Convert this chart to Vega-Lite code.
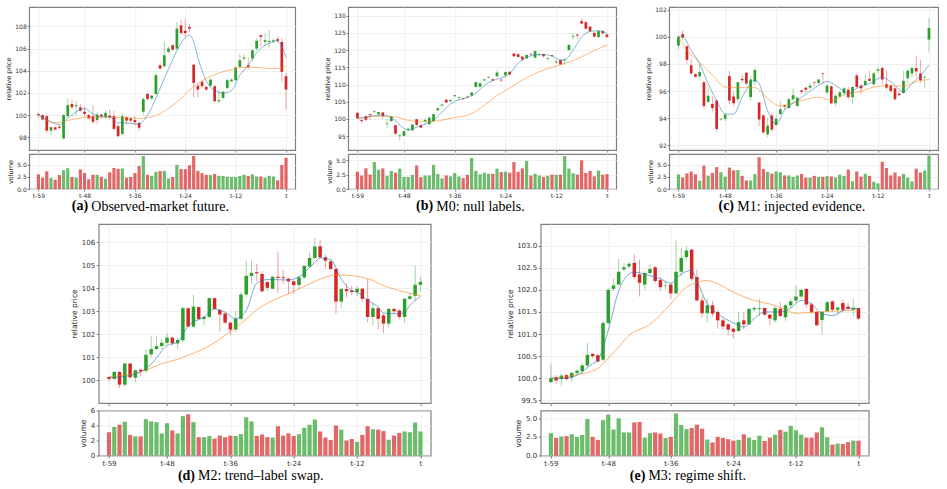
{
  "$schema": "https://vega.github.io/schema/vega-lite/v6.json",
  "background": "white",
  "padding": {"left": 4, "top": 6, "right": 0, "bottom": 0},
  "config": {
    "view": {"stroke": "#808080", "strokeWidth": 1.2},
    "axis": {
      "domain": false, "grid": true, "gridColor": "#ebebeb", "gridWidth": 0.8,
      "tickColor": "#555555", "tickWidth": 0.8, "labelOverlap": false, "labelBound": false,
      "labelFont": "DejaVu Sans", "labelColor": "#333333",
      "titleFont": "DejaVu Sans", "titleFontWeight": "normal", "titleColor": "#222222"
    },
    "title": {"font": "Liberation Serif", "fontSize": 14, "color": "#000000", "fontWeight": "normal", "frame": "bounds"}
  },
  "datasets": {
    "a": [
      {"t":-59,"open":100.1,"high":100.2,"low":99.8,"close":100.0,"vol":3.0},
      {"t":-58,"open":100.0,"high":100.1,"low":99.5,"close":99.6,"vol":2.3},
      {"t":-57,"open":99.9,"high":100.0,"low":98.4,"close":98.6,"vol":3.65},
      {"t":-56,"open":98.6,"high":99.0,"low":98.2,"close":98.9,"vol":2.25},
      {"t":-55,"open":98.9,"high":99.0,"low":98.6,"close":98.7,"vol":1.9},
      {"t":-54,"open":98.95,"high":99.1,"low":98.7,"close":98.85,"vol":2.85},
      {"t":-53,"open":97.9,"high":100.1,"low":97.8,"close":100.0,"vol":3.85},
      {"t":-52,"open":99.9,"high":101.5,"low":99.8,"close":100.9,"vol":4.25},
      {"t":-51,"open":101.0,"high":101.4,"low":100.5,"close":100.7,"vol":2.45},
      {"t":-50,"open":100.8,"high":101.3,"low":99.9,"close":100.9,"vol":2.3},
      {"t":-49,"open":100.7,"high":101.0,"low":100.3,"close":100.4,"vol":4.0},
      {"t":-48,"open":100.3,"high":100.8,"low":99.9,"close":100.1,"vol":3.25},
      {"t":-47,"open":100.0,"high":100.1,"low":99.6,"close":99.7,"vol":2.0},
      {"t":-46,"open":99.9,"high":100.9,"low":99.2,"close":99.4,"vol":2.9},
      {"t":-45,"open":99.55,"high":100.3,"low":99.2,"close":100.05,"vol":2.9},
      {"t":-44,"open":100.05,"high":100.1,"low":99.7,"close":99.9,"vol":2.5},
      {"t":-43,"open":99.85,"high":100.5,"low":99.7,"close":100.2,"vol":2.1},
      {"t":-42,"open":99.95,"high":100.5,"low":99.5,"close":99.8,"vol":3.4},
      {"t":-41,"open":99.9,"high":100.4,"low":98.7,"close":98.75,"vol":4.3},
      {"t":-40,"open":99.0,"high":99.2,"low":98.0,"close":98.1,"vol":4.1},
      {"t":-39,"open":98.3,"high":100.2,"low":98.2,"close":99.9,"vol":4.2},
      {"t":-38,"open":99.8,"high":99.9,"low":99.1,"close":99.5,"vol":2.3},
      {"t":-37,"open":99.7,"high":99.8,"low":99.3,"close":99.5,"vol":2.45},
      {"t":-36,"open":99.55,"high":99.9,"low":99.1,"close":99.35,"vol":3.25},
      {"t":-35,"open":99.3,"high":99.4,"low":98.6,"close":98.85,"vol":4.7},
      {"t":-34,"open":100.3,"high":101.6,"low":100.0,"close":101.45,"vol":6.7},
      {"t":-33,"open":101.9,"high":102.0,"low":101.3,"close":101.45,"vol":2.9},
      {"t":-32,"open":101.5,"high":101.8,"low":101.3,"close":101.75,"vol":2.7},
      {"t":-31,"open":101.9,"high":103.8,"low":101.8,"close":103.6,"vol":3.5},
      {"t":-30,"open":104.5,"high":104.7,"low":104.1,"close":104.2,"vol":3.65},
      {"t":-29,"open":104.4,"high":106.6,"low":104.3,"close":105.4,"vol":3.7},
      {"t":-28,"open":105.7,"high":106.2,"low":105.6,"close":106.0,"vol":2.15},
      {"t":-27,"open":106.3,"high":106.4,"low":105.8,"close":105.9,"vol":2.45},
      {"t":-26,"open":106.0,"high":108.4,"low":105.9,"close":107.8,"vol":4.9},
      {"t":-25,"open":108.1,"high":108.6,"low":107.2,"close":107.4,"vol":4.1},
      {"t":-24,"open":107.6,"high":108.7,"low":107.0,"close":107.4,"vol":4.05},
      {"t":-23,"open":107.95,"high":108.2,"low":107.5,"close":107.8,"vol":4.85},
      {"t":-22,"open":104.55,"high":104.6,"low":101.6,"close":102.9,"vol":6.75},
      {"t":-21,"open":102.65,"high":102.8,"low":101.6,"close":102.3,"vol":3.7},
      {"t":-20,"open":103.0,"high":103.1,"low":102.4,"close":102.6,"vol":3.25},
      {"t":-19,"open":102.55,"high":102.6,"low":102.2,"close":102.3,"vol":2.9},
      {"t":-18,"open":102.65,"high":103.3,"low":102.5,"close":103.2,"vol":2.85},
      {"t":-17,"open":102.6,"high":102.7,"low":101.2,"close":101.25,"vol":3.1},
      {"t":-16,"open":101.25,"high":102.3,"low":101.1,"close":101.35,"vol":2.7},
      {"t":-15,"open":101.55,"high":102.2,"low":101.4,"close":102.1,"vol":2.65},
      {"t":-14,"open":102.45,"high":103.3,"low":102.3,"close":103.15,"vol":2.5},
      {"t":-13,"open":103.05,"high":103.3,"low":103.0,"close":103.2,"vol":2.45},
      {"t":-12,"open":103.15,"high":104.4,"low":103.1,"close":104.3,"vol":2.45},
      {"t":-11,"open":104.35,"high":105.5,"low":104.3,"close":104.95,"vol":2.65},
      {"t":-10,"open":105.1,"high":105.5,"low":104.9,"close":105.2,"vol":2.9},
      {"t":-9,"open":104.5,"high":105.2,"low":104.1,"close":104.35,"vol":2.65},
      {"t":-8,"open":105.1,"high":105.9,"low":104.9,"close":105.85,"vol":3.0},
      {"t":-7,"open":106.0,"high":106.9,"low":105.8,"close":106.7,"vol":2.55},
      {"t":-6,"open":107.2,"high":107.3,"low":106.2,"close":107.05,"vol":2.55},
      {"t":-5,"open":106.6,"high":107.4,"low":106.2,"close":106.75,"vol":2.3},
      {"t":-4,"open":106.6,"high":107.7,"low":106.0,"close":106.7,"vol":2.7},
      {"t":-3,"open":106.65,"high":106.9,"low":106.5,"close":106.75,"vol":2.55},
      {"t":-2,"open":106.85,"high":107.1,"low":106.5,"close":106.7,"vol":1.75},
      {"t":-1,"open":106.6,"high":106.9,"low":103.0,"close":103.9,"vol":4.9},
      {"t":0,"open":103.5,"high":103.8,"low":100.5,"close":102.3,"vol":6.4}
    ],
    "a_fast": [
      {"t":-59,"v":100.0},{"t":-56,"v":99.4},{"t":-54,"v":99.15},{"t":-52,"v":99.7},{"t":-49,"v":100.5},
      {"t":-48,"v":100.6},{"t":-46,"v":100.1},{"t":-44,"v":99.85},{"t":-42,"v":99.85},{"t":-40,"v":99.3},
      {"t":-38,"v":99.3},{"t":-36,"v":99.2},{"t":-35,"v":99.2},{"t":-33,"v":100.0},{"t":-31,"v":101.5},
      {"t":-29,"v":103.3},{"t":-27,"v":105.0},{"t":-25,"v":106.5},{"t":-23,"v":107.2},{"t":-22,"v":106.6},
      {"t":-21,"v":105.2},{"t":-19,"v":103.1},{"t":-17,"v":102.2},{"t":-15,"v":102.0},{"t":-13,"v":102.2},
      {"t":-11,"v":103.6},{"t":-9,"v":104.5},{"t":-7,"v":105.6},{"t":-5,"v":106.3},{"t":-3,"v":106.6},
      {"t":-2,"v":106.7},{"t":-1,"v":106.2},{"t":0,"v":105.2}
    ],
    "a_slow": [
      {"t":-59,"v":100.0},{"t":-55,"v":99.3},{"t":-51,"v":99.6},{"t":-47,"v":99.8},{"t":-41,"v":99.8},
      {"t":-35,"v":99.7},{"t":-31,"v":99.95},{"t":-28,"v":100.6},{"t":-25,"v":101.5},{"t":-22,"v":102.6},
      {"t":-19,"v":103.3},{"t":-16,"v":103.8},{"t":-13,"v":104.1},{"t":-10,"v":104.3},{"t":-7,"v":104.3},
      {"t":-4,"v":104.2},{"t":-2,"v":104.2},{"t":0,"v":104.4}
    ],
    "b": [
      {"t":-59,"open":101.8,"high":102.0,"low":100.0,"close":100.2,"vol":3.0},
      {"t":-58,"open":99.7,"high":99.9,"low":98.8,"close":99.4,"vol":2.35},
      {"t":-57,"open":100.8,"high":101.0,"low":99.3,"close":99.8,"vol":3.6},
      {"t":-56,"open":101.4,"high":101.6,"low":99.8,"close":101.1,"vol":2.5},
      {"t":-55,"open":102.0,"high":102.5,"low":101.8,"close":102.2,"vol":4.7},
      {"t":-54,"open":101.3,"high":102.1,"low":101.2,"close":102.0,"vol":3.35},
      {"t":-53,"open":101.9,"high":102.0,"low":100.0,"close":100.9,"vol":3.6},
      {"t":-52,"open":98.5,"high":100.0,"low":97.3,"close":98.7,"vol":2.3},
      {"t":-51,"open":99.4,"high":100.8,"low":99.2,"close":100.7,"vol":3.15},
      {"t":-50,"open":98.2,"high":98.4,"low":95.5,"close":95.7,"vol":2.85},
      {"t":-49,"open":95.0,"high":95.7,"low":93.8,"close":95.2,"vol":3.55},
      {"t":-48,"open":95.1,"high":96.6,"low":94.9,"close":96.5,"vol":2.1},
      {"t":-47,"open":96.9,"high":97.3,"low":96.3,"close":97.2,"vol":2.1},
      {"t":-46,"open":96.7,"high":98.5,"low":96.6,"close":98.4,"vol":2.45},
      {"t":-45,"open":99.9,"high":100.1,"low":97.9,"close":98.3,"vol":4.1},
      {"t":-44,"open":98.2,"high":98.4,"low":97.3,"close":97.5,"vol":2.05},
      {"t":-43,"open":99.4,"high":100.2,"low":98.4,"close":99.7,"vol":2.35},
      {"t":-42,"open":98.5,"high":100.6,"low":98.3,"close":100.4,"vol":2.35},
      {"t":-41,"open":99.4,"high":101.6,"low":99.2,"close":101.4,"vol":4.2},
      {"t":-40,"open":102.5,"high":103.2,"low":102.4,"close":103.1,"vol":2.6},
      {"t":-39,"open":103.9,"high":104.4,"low":103.7,"close":104.2,"vol":1.85},
      {"t":-38,"open":105.6,"high":105.9,"low":104.6,"close":104.8,"vol":2.35},
      {"t":-37,"open":105.2,"high":105.7,"low":104.8,"close":105.5,"vol":2.2},
      {"t":-36,"open":106.6,"high":107.0,"low":106.5,"close":106.9,"vol":2.8},
      {"t":-35,"open":106.1,"high":106.6,"low":105.4,"close":106.3,"vol":2.2},
      {"t":-34,"open":106.0,"high":106.2,"low":105.4,"close":105.8,"vol":1.9},
      {"t":-33,"open":106.5,"high":106.8,"low":106.1,"close":106.3,"vol":2.45},
      {"t":-32,"open":106.8,"high":107.8,"low":106.6,"close":107.7,"vol":5.4},
      {"t":-31,"open":109.3,"high":110.9,"low":109.1,"close":110.7,"vol":3.15},
      {"t":-30,"open":109.4,"high":110.6,"low":109.2,"close":110.4,"vol":2.55},
      {"t":-29,"open":111.2,"high":111.7,"low":111.0,"close":111.5,"vol":2.85},
      {"t":-28,"open":112.0,"high":112.5,"low":111.9,"close":112.2,"vol":2.65},
      {"t":-27,"open":111.5,"high":111.9,"low":110.7,"close":111.2,"vol":2.65},
      {"t":-26,"open":112.4,"high":114.3,"low":112.0,"close":113.5,"vol":3.55},
      {"t":-25,"open":111.4,"high":111.7,"low":110.7,"close":111.2,"vol":2.95},
      {"t":-24,"open":112.7,"high":113.8,"low":112.0,"close":113.6,"vol":3.0},
      {"t":-23,"open":113.7,"high":113.9,"low":112.7,"close":112.9,"vol":2.85},
      {"t":-22,"open":119.0,"high":119.2,"low":118.0,"close":118.2,"vol":4.7},
      {"t":-21,"open":118.8,"high":119.0,"low":117.8,"close":118.0,"vol":3.0},
      {"t":-20,"open":118.1,"high":118.3,"low":116.8,"close":117.3,"vol":3.6},
      {"t":-19,"open":117.6,"high":118.8,"low":117.4,"close":118.6,"vol":4.9},
      {"t":-18,"open":118.9,"high":119.1,"low":118.5,"close":118.7,"vol":2.35},
      {"t":-17,"open":117.8,"high":119.9,"low":117.6,"close":119.7,"vol":2.65},
      {"t":-16,"open":118.6,"high":119.1,"low":118.2,"close":118.8,"vol":2.35},
      {"t":-15,"open":118.8,"high":119.0,"low":117.9,"close":118.2,"vol":2.1},
      {"t":-14,"open":117.5,"high":118.0,"low":116.8,"close":117.7,"vol":2.3},
      {"t":-13,"open":118.5,"high":118.6,"low":118.0,"close":118.3,"vol":2.5},
      {"t":-12,"open":116.4,"high":117.1,"low":116.1,"close":116.7,"vol":2.45},
      {"t":-11,"open":117.1,"high":117.3,"low":115.7,"close":115.8,"vol":2.5},
      {"t":-10,"open":117.0,"high":117.6,"low":115.7,"close":117.2,"vol":5.75},
      {"t":-9,"open":120.0,"high":121.7,"low":119.9,"close":121.5,"vol":3.55},
      {"t":-8,"open":123.8,"high":124.8,"low":123.0,"close":124.0,"vol":2.75},
      {"t":-7,"open":124.5,"high":124.6,"low":123.2,"close":124.2,"vol":2.5},
      {"t":-6,"open":128.4,"high":129.2,"low":127.5,"close":127.7,"vol":5.0},
      {"t":-5,"open":128.1,"high":128.3,"low":126.0,"close":126.2,"vol":2.8},
      {"t":-4,"open":126.8,"high":127.0,"low":125.2,"close":125.5,"vol":3.15},
      {"t":-3,"open":125.0,"high":125.2,"low":123.7,"close":123.9,"vol":2.2},
      {"t":-2,"open":123.8,"high":125.8,"low":123.2,"close":125.5,"vol":3.2},
      {"t":-1,"open":125.5,"high":126.0,"low":124.5,"close":124.9,"vol":2.5},
      {"t":0,"open":124.5,"high":124.7,"low":123.5,"close":123.8,"vol":2.6}
    ],
    "b_fast": [
      {"t":-59,"v":100.3},{"t":-57,"v":100.5},{"t":-55,"v":101.0},{"t":-53,"v":101.1},{"t":-51,"v":100.5},
      {"t":-49,"v":98.2},{"t":-47,"v":96.8},{"t":-45,"v":97.6},{"t":-43,"v":98.5},{"t":-41,"v":99.7},
      {"t":-39,"v":102.0},{"t":-37,"v":104.3},{"t":-35,"v":105.6},{"t":-33,"v":106.2},{"t":-31,"v":107.5},
      {"t":-29,"v":109.7},{"t":-27,"v":111.2},{"t":-25,"v":111.9},{"t":-23,"v":113.2},{"t":-21,"v":116.2},
      {"t":-19,"v":117.8},{"t":-17,"v":118.6},{"t":-15,"v":118.7},{"t":-13,"v":118.3},{"t":-11,"v":117.1},
      {"t":-10,"v":117.2},{"t":-8,"v":120.0},{"t":-6,"v":123.8},{"t":-4,"v":125.4},{"t":-2,"v":125.6},
      {"t":0,"v":124.8}
    ],
    "b_slow": [
      {"t":-59,"v":100.0},{"t":-54,"v":100.8},{"t":-50,"v":100.6},{"t":-47,"v":99.6},{"t":-44,"v":99.2},
      {"t":-41,"v":99.3},{"t":-38,"v":99.9},{"t":-36,"v":100.4},{"t":-32,"v":101.5},{"t":-29,"v":104.0},
      {"t":-26,"v":106.8},{"t":-23,"v":109.0},{"t":-19,"v":112.0},{"t":-16,"v":113.7},{"t":-12,"v":115.4},
      {"t":-10,"v":116.1},{"t":-8,"v":116.9},{"t":-4,"v":119.3},{"t":0,"v":121.5}
    ],
    "c": [
      {"t":-59,"open":99.35,"high":100.1,"low":99.1,"close":100.0,"vol":3.0},
      {"t":-58,"open":100.2,"high":100.45,"low":99.8,"close":99.95,"vol":2.35},
      {"t":-57,"open":99.3,"high":99.4,"low":98.0,"close":98.3,"vol":3.2},
      {"t":-56,"open":97.9,"high":98.4,"low":97.2,"close":97.3,"vol":3.6},
      {"t":-55,"open":97.25,"high":97.3,"low":97.0,"close":97.05,"vol":3.05},
      {"t":-54,"open":97.1,"high":98.0,"low":96.8,"close":97.4,"vol":1.7},
      {"t":-53,"open":96.65,"high":96.7,"low":94.7,"close":94.9,"vol":4.8},
      {"t":-52,"open":95.2,"high":96.2,"low":95.1,"close":95.65,"vol":2.75},
      {"t":-51,"open":95.05,"high":95.6,"low":94.5,"close":94.75,"vol":3.3},
      {"t":-50,"open":95.3,"high":95.4,"low":93.0,"close":93.2,"vol":4.5},
      {"t":-49,"open":93.9,"high":94.0,"low":93.8,"close":93.95,"vol":3.45},
      {"t":-48,"open":93.95,"high":94.4,"low":93.8,"close":94.25,"vol":2.55},
      {"t":-47,"open":97.1,"high":97.5,"low":95.0,"close":95.3,"vol":4.4},
      {"t":-46,"open":95.6,"high":96.0,"low":94.9,"close":95.1,"vol":3.85},
      {"t":-45,"open":95.4,"high":96.7,"low":95.2,"close":96.65,"vol":3.9},
      {"t":-44,"open":96.9,"high":97.2,"low":96.6,"close":96.8,"vol":2.7},
      {"t":-43,"open":97.35,"high":97.4,"low":96.4,"close":96.55,"vol":1.75},
      {"t":-42,"open":95.55,"high":97.1,"low":95.3,"close":96.85,"vol":1.75},
      {"t":-41,"open":96.7,"high":97.75,"low":96.4,"close":97.55,"vol":3.05},
      {"t":-40,"open":95.15,"high":95.2,"low":93.4,"close":93.9,"vol":6.55},
      {"t":-39,"open":94.2,"high":94.3,"low":92.8,"close":92.95,"vol":4.1},
      {"t":-38,"open":92.8,"high":94.0,"low":92.6,"close":93.45,"vol":3.5},
      {"t":-37,"open":94.2,"high":94.4,"low":93.0,"close":93.15,"vol":3.15},
      {"t":-36,"open":93.5,"high":94.2,"low":93.4,"close":93.95,"vol":3.6},
      {"t":-35,"open":94.3,"high":95.3,"low":94.2,"close":94.65,"vol":3.45},
      {"t":-34,"open":94.95,"high":95.0,"low":94.6,"close":94.85,"vol":2.8},
      {"t":-33,"open":94.75,"high":95.5,"low":94.7,"close":95.4,"vol":2.8},
      {"t":-32,"open":95.4,"high":96.2,"low":95.3,"close":95.7,"vol":2.5},
      {"t":-31,"open":94.9,"high":95.6,"low":94.8,"close":95.5,"vol":2.8},
      {"t":-30,"open":96.05,"high":96.1,"low":95.8,"close":95.95,"vol":3.1},
      {"t":-29,"open":96.25,"high":96.3,"low":95.9,"close":96.1,"vol":2.35},
      {"t":-28,"open":96.25,"high":96.6,"low":96.1,"close":96.4,"vol":2.35},
      {"t":-27,"open":96.65,"high":96.7,"low":96.3,"close":96.6,"vol":2.7},
      {"t":-26,"open":96.6,"high":96.9,"low":96.5,"close":96.85,"vol":2.5},
      {"t":-25,"open":97.3,"high":97.35,"low":96.5,"close":97.25,"vol":2.5},
      {"t":-24,"open":95.9,"high":96.5,"low":95.8,"close":96.4,"vol":2.65},
      {"t":-23,"open":96.35,"high":96.4,"low":95.0,"close":95.1,"vol":2.6},
      {"t":-22,"open":95.1,"high":95.8,"low":94.9,"close":95.65,"vol":2.35},
      {"t":-21,"open":95.6,"high":96.0,"low":95.5,"close":95.9,"vol":2.95},
      {"t":-20,"open":95.85,"high":96.3,"low":95.7,"close":96.2,"vol":2.7},
      {"t":-19,"open":96.1,"high":96.3,"low":95.4,"close":95.55,"vol":4.0},
      {"t":-18,"open":95.55,"high":96.35,"low":95.0,"close":96.3,"vol":1.6},
      {"t":-17,"open":97.15,"high":97.3,"low":96.2,"close":96.3,"vol":3.6},
      {"t":-16,"open":96.4,"high":96.5,"low":95.8,"close":96.2,"vol":2.55},
      {"t":-15,"open":96.45,"high":97.3,"low":96.4,"close":96.75,"vol":3.1},
      {"t":-14,"open":96.9,"high":97.5,"low":96.7,"close":96.75,"vol":2.7},
      {"t":-13,"open":96.5,"high":97.4,"low":96.4,"close":97.3,"vol":1.5},
      {"t":-12,"open":97.5,"high":97.75,"low":97.3,"close":97.6,"vol":1.15},
      {"t":-11,"open":97.7,"high":97.8,"low":96.5,"close":96.85,"vol":5.6},
      {"t":-10,"open":96.5,"high":97.5,"low":96.1,"close":96.25,"vol":4.3},
      {"t":-9,"open":96.4,"high":96.5,"low":95.9,"close":96.0,"vol":2.8},
      {"t":-8,"open":96.2,"high":96.3,"low":95.3,"close":95.4,"vol":3.4},
      {"t":-7,"open":95.8,"high":96.0,"low":95.6,"close":95.7,"vol":2.6},
      {"t":-6,"open":95.85,"high":97.5,"low":95.8,"close":96.75,"vol":3.1},
      {"t":-5,"open":96.95,"high":97.6,"low":96.6,"close":97.5,"vol":2.35},
      {"t":-4,"open":97.3,"high":97.8,"low":97.0,"close":97.7,"vol":1.55},
      {"t":-3,"open":97.7,"high":98.6,"low":97.0,"close":97.45,"vol":4.2},
      {"t":-2,"open":97.3,"high":98.3,"low":96.6,"close":96.8,"vol":3.4},
      {"t":-1,"open":97.0,"high":97.1,"low":96.2,"close":97.05,"vol":3.8},
      {"t":0,"open":99.8,"high":101.4,"low":98.9,"close":100.65,"vol":6.9}
    ],
    "c_fast": [
      {"t":-59,"v":100.0},{"t":-58,"v":100.0},{"t":-56,"v":99.0},{"t":-54,"v":98.0},{"t":-52,"v":96.55},
      {"t":-50,"v":95.3},{"t":-48,"v":94.3},{"t":-46,"v":94.3},{"t":-44,"v":95.55},{"t":-41,"v":96.8},
      {"t":-40,"v":96.55},{"t":-38,"v":94.55},{"t":-36,"v":93.55},{"t":-34,"v":94.6},{"t":-31,"v":95.3},
      {"t":-27,"v":96.2},{"t":-24,"v":96.7},{"t":-21,"v":96.2},{"t":-19,"v":95.8},{"t":-17,"v":96.2},
      {"t":-14,"v":96.55},{"t":-11,"v":97.0},{"t":-9,"v":96.7},{"t":-6,"v":95.95},{"t":-4,"v":96.55},
      {"t":-2,"v":97.15},{"t":0,"v":97.9}
    ],
    "c_slow": [
      {"t":-59,"v":100.0},{"t":-57,"v":99.0},{"t":-55,"v":98.4},{"t":-54,"v":98.1},{"t":-51,"v":97.2},
      {"t":-48,"v":96.3},{"t":-44,"v":96.25},{"t":-41,"v":96.25},{"t":-38,"v":95.45},{"t":-35,"v":94.9},
      {"t":-30,"v":95.3},{"t":-26,"v":95.55},{"t":-23,"v":95.3},{"t":-20,"v":95.7},{"t":-17,"v":95.9},
      {"t":-12,"v":96.35},{"t":-9,"v":96.4},{"t":-6,"v":96.35},{"t":-3,"v":96.7},{"t":0,"v":96.85}
    ],
    "d": [
      {"t":-59,"open":100.13,"high":100.15,"low":99.95,"close":100.05,"vol":3.1},
      {"t":-58,"open":100.05,"high":100.4,"low":100.0,"close":100.35,"vol":3.8},
      {"t":-57,"open":100.35,"high":100.4,"low":99.65,"close":99.8,"vol":4.1},
      {"t":-56,"open":99.8,"high":100.75,"low":99.7,"close":100.72,"vol":4.5},
      {"t":-55,"open":100.72,"high":100.75,"low":100.05,"close":100.12,"vol":2.75},
      {"t":-54,"open":100.1,"high":100.45,"low":99.9,"close":100.43,"vol":2.55},
      {"t":-53,"open":100.45,"high":100.5,"low":100.2,"close":100.38,"vol":2.55},
      {"t":-52,"open":100.4,"high":101.35,"low":100.3,"close":101.1,"vol":4.85},
      {"t":-51,"open":101.12,"high":101.9,"low":101.0,"close":101.35,"vol":4.55},
      {"t":-50,"open":101.35,"high":101.9,"low":101.3,"close":101.48,"vol":4.45},
      {"t":-49,"open":101.48,"high":101.8,"low":101.35,"close":101.63,"vol":2.95},
      {"t":-48,"open":101.62,"high":102.05,"low":101.55,"close":101.85,"vol":4.3},
      {"t":-47,"open":101.85,"high":101.9,"low":101.5,"close":101.6,"vol":3.35},
      {"t":-46,"open":101.6,"high":101.85,"low":101.35,"close":101.75,"vol":2.95},
      {"t":-45,"open":101.73,"high":103.2,"low":101.65,"close":103.13,"vol":5.25},
      {"t":-44,"open":103.13,"high":103.15,"low":102.3,"close":102.33,"vol":5.5},
      {"t":-43,"open":102.33,"high":103.72,"low":102.25,"close":103.2,"vol":4.45},
      {"t":-42,"open":103.18,"high":103.2,"low":102.6,"close":102.66,"vol":2.45},
      {"t":-41,"open":102.66,"high":102.8,"low":102.4,"close":102.75,"vol":2.45},
      {"t":-40,"open":102.75,"high":103.6,"low":102.7,"close":103.57,"vol":2.6},
      {"t":-39,"open":103.57,"high":103.6,"low":103.05,"close":103.1,"vol":2.25},
      {"t":-38,"open":103.05,"high":103.1,"low":102.1,"close":102.86,"vol":2.65},
      {"t":-37,"open":102.9,"high":102.95,"low":102.45,"close":102.5,"vol":2.45},
      {"t":-36,"open":102.5,"high":102.55,"low":101.95,"close":102.2,"vol":2.65},
      {"t":-35,"open":102.2,"high":103.0,"low":102.1,"close":102.67,"vol":2.6},
      {"t":-34,"open":102.67,"high":103.85,"low":102.6,"close":103.73,"vol":2.85},
      {"t":-33,"open":103.73,"high":105.2,"low":103.6,"close":104.54,"vol":5.1},
      {"t":-32,"open":104.54,"high":105.2,"low":104.2,"close":104.67,"vol":4.55},
      {"t":-31,"open":104.7,"high":105.07,"low":104.3,"close":104.65,"vol":2.6},
      {"t":-30,"open":104.62,"high":104.75,"low":103.8,"close":103.87,"vol":2.8},
      {"t":-29,"open":104.27,"high":104.3,"low":103.9,"close":104.02,"vol":2.45},
      {"t":-28,"open":103.98,"high":104.55,"low":103.95,"close":104.5,"vol":2.4},
      {"t":-27,"open":104.5,"high":105.6,"low":103.8,"close":104.45,"vol":3.9},
      {"t":-26,"open":104.48,"high":104.8,"low":104.2,"close":104.44,"vol":2.65},
      {"t":-25,"open":104.42,"high":104.45,"low":103.75,"close":104.3,"vol":2.95},
      {"t":-24,"open":104.3,"high":104.35,"low":103.75,"close":104.14,"vol":2.6},
      {"t":-23,"open":104.14,"high":104.55,"low":103.95,"close":104.47,"vol":2.85},
      {"t":-22,"open":104.47,"high":105.0,"low":104.4,"close":104.97,"vol":3.7},
      {"t":-21,"open":104.95,"high":105.55,"low":104.9,"close":105.32,"vol":4.1},
      {"t":-20,"open":105.32,"high":106.2,"low":105.3,"close":105.82,"vol":4.8},
      {"t":-19,"open":105.83,"high":106.1,"low":105.3,"close":105.35,"vol":3.2},
      {"t":-18,"open":105.35,"high":105.45,"low":104.85,"close":105.2,"vol":2.4},
      {"t":-17,"open":105.17,"high":105.25,"low":104.8,"close":104.84,"vol":2.05},
      {"t":-16,"open":104.84,"high":104.9,"low":102.9,"close":103.42,"vol":4.0},
      {"t":-15,"open":103.42,"high":104.0,"low":103.15,"close":103.97,"vol":3.45},
      {"t":-14,"open":103.96,"high":104.2,"low":103.6,"close":103.87,"vol":2.0},
      {"t":-13,"open":103.9,"high":104.1,"low":103.7,"close":103.83,"vol":2.2},
      {"t":-12,"open":103.83,"high":104.1,"low":103.65,"close":103.98,"vol":1.8},
      {"t":-11,"open":103.98,"high":104.0,"low":103.4,"close":103.54,"vol":2.75},
      {"t":-10,"open":103.54,"high":104.4,"low":102.5,"close":102.75,"vol":3.9},
      {"t":-9,"open":102.75,"high":103.35,"low":102.4,"close":103.13,"vol":3.5},
      {"t":-8,"open":103.13,"high":103.2,"low":102.2,"close":102.67,"vol":3.45},
      {"t":-7,"open":102.82,"high":102.9,"low":102.05,"close":102.46,"vol":3.25},
      {"t":-6,"open":102.46,"high":103.15,"low":102.3,"close":103.1,"vol":2.1},
      {"t":-5,"open":103.1,"high":103.15,"low":102.9,"close":103.0,"vol":2.65},
      {"t":-4,"open":103.03,"high":103.1,"low":102.65,"close":102.75,"vol":3.0},
      {"t":-3,"open":102.75,"high":103.6,"low":102.5,"close":103.54,"vol":3.2},
      {"t":-2,"open":103.54,"high":103.8,"low":103.5,"close":103.65,"vol":3.1},
      {"t":-1,"open":103.67,"high":104.98,"low":103.45,"close":104.15,"vol":4.4},
      {"t":0,"open":104.15,"high":104.5,"low":103.85,"close":104.28,"vol":3.2}
    ],
    "d_fast": [
      {"t":-59,"v":100.1},{"t":-55,"v":100.2},{"t":-52,"v":100.5},{"t":-51,"v":100.7},{"t":-48,"v":101.5},
      {"t":-46,"v":101.66},{"t":-44,"v":102.35},{"t":-41,"v":102.75},{"t":-39,"v":103.1},{"t":-37,"v":102.96},
      {"t":-35,"v":102.67},{"t":-33,"v":103.03},{"t":-31,"v":104.22},{"t":-29,"v":104.38},{"t":-25,"v":104.36},
      {"t":-23,"v":104.5},{"t":-20,"v":105.13},{"t":-19,"v":105.32},{"t":-17,"v":105.25},{"t":-15,"v":104.4},
      {"t":-13,"v":103.9},{"t":-12,"v":103.83},{"t":-10,"v":103.47},{"t":-8,"v":103.18},{"t":-7,"v":102.92},
      {"t":-4,"v":102.89},{"t":-3,"v":102.96},{"t":-2,"v":103.25},{"t":0,"v":103.64}
    ],
    "d_slow": [
      {"t":-59,"v":100.14},{"t":-52,"v":100.43},{"t":-49,"v":100.72},{"t":-46,"v":100.9},{"t":-44,"v":101.08},
      {"t":-40,"v":101.49},{"t":-37,"v":101.95},{"t":-34,"v":102.46},{"t":-31,"v":103.06},{"t":-28,"v":103.47},
      {"t":-25,"v":103.76},{"t":-21,"v":104.19},{"t":-18,"v":104.48},{"t":-15,"v":104.58},{"t":-13,"v":104.55},
      {"t":-9,"v":104.34},{"t":-7,"v":104.12},{"t":-4,"v":103.9},{"t":0,"v":103.68}
    ],
    "e": [
      {"t":-59,"open":99.91,"high":100.33,"low":99.9,"close":100.0,"vol":3.0},
      {"t":-58,"open":100.02,"high":100.07,"low":99.87,"close":99.95,"vol":2.35},
      {"t":-57,"open":99.98,"high":100.1,"low":99.83,"close":100.06,"vol":2.55},
      {"t":-56,"open":100.07,"high":100.1,"low":99.95,"close":99.98,"vol":2.6},
      {"t":-55,"open":100.02,"high":100.14,"low":99.92,"close":100.12,"vol":2.85},
      {"t":-54,"open":100.12,"high":100.2,"low":100.08,"close":100.17,"vol":2.5},
      {"t":-53,"open":100.16,"high":100.35,"low":100.1,"close":100.29,"vol":2.75},
      {"t":-52,"open":100.29,"high":100.8,"low":100.25,"close":100.53,"vol":4.9},
      {"t":-51,"open":100.55,"high":100.57,"low":100.45,"close":100.5,"vol":2.5},
      {"t":-50,"open":100.52,"high":100.55,"low":100.35,"close":100.38,"vol":2.1},
      {"t":-49,"open":100.42,"high":101.3,"low":100.38,"close":101.25,"vol":4.75},
      {"t":-48,"open":101.25,"high":102.05,"low":101.2,"close":102.0,"vol":5.5},
      {"t":-47,"open":102.02,"high":102.25,"low":101.97,"close":102.1,"vol":3.5},
      {"t":-46,"open":102.12,"high":102.7,"low":102.1,"close":102.41,"vol":5.0},
      {"t":-45,"open":102.46,"high":102.6,"low":102.42,"close":102.51,"vol":3.1},
      {"t":-44,"open":102.53,"high":102.63,"low":102.48,"close":102.59,"vol":3.1},
      {"t":-43,"open":102.61,"high":102.8,"low":102.25,"close":102.29,"vol":4.45},
      {"t":-42,"open":102.35,"high":102.68,"low":101.85,"close":102.16,"vol":4.5},
      {"t":-41,"open":102.12,"high":102.42,"low":102.0,"close":102.38,"vol":2.4},
      {"t":-40,"open":102.38,"high":102.58,"low":102.35,"close":102.47,"vol":3.0},
      {"t":-39,"open":102.51,"high":102.55,"low":102.15,"close":102.2,"vol":3.1},
      {"t":-38,"open":102.22,"high":102.3,"low":101.98,"close":102.06,"vol":2.95},
      {"t":-37,"open":102.1,"high":102.2,"low":102.0,"close":102.11,"vol":2.35},
      {"t":-36,"open":102.12,"high":102.15,"low":101.8,"close":101.92,"vol":2.5},
      {"t":-35,"open":101.92,"high":103.12,"low":101.9,"close":102.41,"vol":5.65},
      {"t":-34,"open":102.41,"high":102.95,"low":102.3,"close":102.72,"vol":4.1},
      {"t":-33,"open":102.74,"high":102.98,"low":102.68,"close":102.89,"vol":3.55},
      {"t":-32,"open":102.91,"high":102.92,"low":102.2,"close":102.25,"vol":3.7},
      {"t":-31,"open":102.29,"high":102.45,"low":101.74,"close":101.76,"vol":4.15},
      {"t":-30,"open":101.76,"high":101.85,"low":101.37,"close":101.47,"vol":3.6},
      {"t":-29,"open":101.47,"high":101.8,"low":101.27,"close":101.65,"vol":2.15},
      {"t":-28,"open":101.65,"high":101.75,"low":101.4,"close":101.46,"vol":1.75},
      {"t":-27,"open":101.5,"high":101.55,"low":101.12,"close":101.31,"vol":2.5},
      {"t":-26,"open":101.31,"high":101.35,"low":101.1,"close":101.17,"vol":2.35},
      {"t":-25,"open":101.22,"high":101.25,"low":100.97,"close":101.1,"vol":2.2},
      {"t":-24,"open":101.12,"high":101.15,"low":100.9,"close":101.05,"vol":2.0},
      {"t":-23,"open":101.07,"high":101.5,"low":101.05,"close":101.27,"vol":2.1},
      {"t":-22,"open":101.31,"high":101.5,"low":101.1,"close":101.22,"vol":2.85},
      {"t":-21,"open":101.22,"high":101.6,"low":101.2,"close":101.57,"vol":2.4},
      {"t":-20,"open":101.56,"high":101.63,"low":101.5,"close":101.59,"vol":2.1},
      {"t":-19,"open":101.57,"high":101.8,"low":101.4,"close":101.59,"vol":2.65},
      {"t":-18,"open":101.59,"high":101.6,"low":101.4,"close":101.44,"vol":1.95},
      {"t":-17,"open":101.44,"high":101.45,"low":101.2,"close":101.35,"vol":2.4},
      {"t":-16,"open":101.31,"high":101.62,"low":101.25,"close":101.59,"vol":2.8},
      {"t":-15,"open":101.57,"high":101.72,"low":101.37,"close":101.41,"vol":3.45},
      {"t":-14,"open":101.38,"high":101.68,"low":101.3,"close":101.65,"vol":3.2},
      {"t":-13,"open":101.65,"high":101.8,"low":101.6,"close":101.74,"vol":4.0},
      {"t":-12,"open":101.76,"high":102.1,"low":101.7,"close":101.85,"vol":3.4},
      {"t":-11,"open":101.85,"high":102.03,"low":101.8,"close":102.0,"vol":2.8},
      {"t":-10,"open":102.02,"high":102.04,"low":101.6,"close":101.67,"vol":2.4},
      {"t":-9,"open":101.67,"high":101.72,"low":101.45,"close":101.5,"vol":2.4},
      {"t":-8,"open":101.5,"high":101.52,"low":101.17,"close":101.2,"vol":3.1},
      {"t":-7,"open":101.32,"high":101.52,"low":101.0,"close":101.5,"vol":3.8},
      {"t":-6,"open":101.52,"high":101.75,"low":101.5,"close":101.72,"vol":2.45},
      {"t":-5,"open":101.74,"high":101.76,"low":101.5,"close":101.55,"vol":1.45},
      {"t":-4,"open":101.55,"high":101.62,"low":101.45,"close":101.6,"vol":1.6},
      {"t":-3,"open":101.7,"high":101.78,"low":101.5,"close":101.55,"vol":1.55},
      {"t":-2,"open":101.62,"high":101.71,"low":101.55,"close":101.57,"vol":1.8},
      {"t":-1,"open":101.55,"high":101.8,"low":101.4,"close":101.59,"vol":2.0},
      {"t":0,"open":101.59,"high":101.6,"low":101.32,"close":101.35,"vol":2.0}
    ],
    "e_fast": [
      {"t":-59,"v":100.0},{"t":-56,"v":100.0},{"t":-54,"v":100.07},{"t":-51,"v":100.33},{"t":-50,"v":100.41},
      {"t":-48,"v":101.08},{"t":-46,"v":101.98},{"t":-44,"v":102.36},{"t":-43,"v":102.4},{"t":-40,"v":102.32},
      {"t":-38,"v":102.25},{"t":-36,"v":102.15},{"t":-34,"v":102.36},{"t":-32,"v":102.44},{"t":-31,"v":102.21},
      {"t":-29,"v":101.68},{"t":-27,"v":101.46},{"t":-25,"v":101.31},{"t":-23,"v":101.2},{"t":-22,"v":101.16},
      {"t":-20,"v":101.35},{"t":-18,"v":101.5},{"t":-15,"v":101.5},{"t":-13,"v":101.59},{"t":-11,"v":101.76},
      {"t":-9,"v":101.68},{"t":-7,"v":101.46},{"t":-5,"v":101.42},{"t":-3,"v":101.53},{"t":-2,"v":101.59},
      {"t":0,"v":101.57}
    ],
    "e_slow": [
      {"t":-59,"v":100.0},{"t":-54,"v":100.08},{"t":-50,"v":100.22},{"t":-49,"v":100.33},{"t":-46,"v":100.71},
      {"t":-44,"v":100.97},{"t":-40,"v":101.22},{"t":-36,"v":101.68},{"t":-33,"v":102.06},{"t":-29,"v":102.21},
      {"t":-27,"v":102.14},{"t":-24,"v":101.95},{"t":-20,"v":101.76},{"t":-17,"v":101.68},{"t":-14,"v":101.55},
      {"t":-12,"v":101.47},{"t":-8,"v":101.5},{"t":-4,"v":101.52},{"t":0,"v":101.55}
    ]
  },
  "vconcat": [
    {
      "hconcat": [
        {
          "title": {"text": "Observed-market future.", "orient": "bottom", "anchor": "middle", "dx": 9.9, "dy": -14, "offset": 0},
          "spacing": 0,
          "vconcat": [
            {
              "width": 266, "height": 143,
              "resolve": {"axis": {"y": "independent"}},
              "encoding": {
                "x": {"field": "t", "type": "quantitative", "scale": {"domain": [-60, 1], "nice": false, "zero": false},
                      "axis": {"values": [-59, -48, -36, -24, -12, 0], "labels": false, "tickSize": 2, "title": null, "minExtent": 2, "maxExtent": 2}}
              },
              "layer": [
                {"data": {"name": "a"}, "mark": {"type": "rule", "strokeWidth": 0.9, "opacity": 0.45},
                 "encoding": {
                   "y": {"field": "low", "type": "quantitative", "scale": {"domain": [96.85, 109.75], "nice": false, "zero": false},
                         "axis": {"values": [98, 100, 102, 104, 106, 108], "labelOverlap": false, "title": "relative price", "labelFontSize": 6, "titleFontSize": 6.5, "tickSize": 2, "labelPadding": 1, "titlePadding": 3, "minExtent": 15, "maxExtent": 15}},
                   "y2": {"field": "high"},
                   "color": {"condition": {"test": "datum.close >= datum.open", "value": "#2ca02c"}, "value": "#d62728"}
                 }},
                {"data": {"name": "a"}, "mark": {"type": "bar", "size": 2.7, "orient": "vertical"},
                 "encoding": {
                   "y": {"field": "open", "type": "quantitative", "axis": null},
                   "y2": {"field": "close"},
                   "color": {"condition": {"test": "datum.close >= datum.open", "value": "#2ca02c"}, "value": "#d62728"}
                 }},
                {"data": {"name": "a_slow"}, "mark": {"type": "line", "color": "#ff7f0e", "strokeWidth": 0.9, "opacity": 0.6, "interpolate": "monotone"},
                 "encoding": {"y": {"field": "v", "type": "quantitative", "axis": null}}},
                {"data": {"name": "a_fast"}, "mark": {"type": "line", "color": "#1f77b4", "strokeWidth": 0.9, "opacity": 0.6, "interpolate": "monotone"},
                 "encoding": {"y": {"field": "v", "type": "quantitative", "axis": null}}}
              ]
            },
            {
              "width": 266, "height": 35,
              "title": {"text": "(a)", "orient": "bottom", "anchor": "middle", "fontWeight": "bold", "dx": -71.5, "offset": 1},
              "data": {"name": "a"},
              "mark": {"type": "bar", "size": 3.2, "orient": "vertical", "opacity": 0.7},
              "encoding": {
                "x": {"field": "t", "type": "quantitative", "scale": {"domain": [-60, 1], "nice": false, "zero": false},
                      "axis": {"values": [-59, -48, -36, -24, -12, 0], "labelExpr": "datum.value == 0 ? 't' : 't' + datum.value", "labelFontSize": 6, "tickSize": 2, "labelPadding": 1, "title": null}},
                "y": {"field": "vol", "type": "quantitative", "scale": {"domain": [0, 7.15], "nice": false},
                      "axis": {"values": [0, 2.5, 5], "format": ".1f", "labelOverlap": false, "title": "volume", "labelFontSize": 6, "titleFontSize": 6.5, "tickSize": 2, "labelPadding": 1, "titlePadding": 3}},
                "color": {"condition": {"test": "datum.close >= datum.open", "value": "#2ca02c"}, "value": "#d62728"}
              }
            }
          ]
        },
        {
          "title": {"text": "M0: null labels.", "orient": "bottom", "anchor": "middle", "dx": 10.3, "dy": -14, "offset": 0},
          "spacing": 0,
          "vconcat": [
            {
              "width": 268, "height": 143,
              "resolve": {"axis": {"y": "independent"}},
              "encoding": {
                "x": {"field": "t", "type": "quantitative", "scale": {"domain": [-60, 1], "nice": false, "zero": false},
                      "axis": {"values": [-59, -48, -36, -24, -12, 0], "labels": false, "tickSize": 2, "title": null, "minExtent": 2, "maxExtent": 2}}
              },
              "layer": [
                {"data": {"name": "b"}, "mark": {"type": "rule", "strokeWidth": 0.9, "opacity": 0.45},
                 "encoding": {
                   "y": {"field": "low", "type": "quantitative", "scale": {"domain": [91.0, 132.5], "nice": false, "zero": false},
                         "axis": {"values": [95, 100, 105, 110, 115, 120, 125, 130], "labelOverlap": false, "title": "relative price", "labelFontSize": 6, "titleFontSize": 6.5, "tickSize": 2, "labelPadding": 1, "titlePadding": 3, "minExtent": 15, "maxExtent": 15}},
                   "y2": {"field": "high"},
                   "color": {"condition": {"test": "datum.close >= datum.open", "value": "#2ca02c"}, "value": "#d62728"}
                 }},
                {"data": {"name": "b"}, "mark": {"type": "bar", "size": 2.7, "orient": "vertical"},
                 "encoding": {
                   "y": {"field": "open", "type": "quantitative", "axis": null},
                   "y2": {"field": "close"},
                   "color": {"condition": {"test": "datum.close >= datum.open", "value": "#2ca02c"}, "value": "#d62728"}
                 }},
                {"data": {"name": "b_slow"}, "mark": {"type": "line", "color": "#ff7f0e", "strokeWidth": 0.9, "opacity": 0.6, "interpolate": "monotone"},
                 "encoding": {"y": {"field": "v", "type": "quantitative", "axis": null}}},
                {"data": {"name": "b_fast"}, "mark": {"type": "line", "color": "#1f77b4", "strokeWidth": 0.9, "opacity": 0.6, "interpolate": "monotone"},
                 "encoding": {"y": {"field": "v", "type": "quantitative", "axis": null}}}
              ]
            },
            {
              "width": 268, "height": 35,
              "title": {"text": "(b)", "orient": "bottom", "anchor": "middle", "fontWeight": "bold", "dx": -46.9, "offset": 1},
              "data": {"name": "b"},
              "mark": {"type": "bar", "size": 3.2, "orient": "vertical", "opacity": 0.7},
              "encoding": {
                "x": {"field": "t", "type": "quantitative", "scale": {"domain": [-60, 1], "nice": false, "zero": false},
                      "axis": {"values": [-59, -48, -36, -24, -12, 0], "labelExpr": "datum.value == 0 ? 't' : 't' + datum.value", "labelFontSize": 6, "tickSize": 2, "labelPadding": 1, "title": null}},
                "y": {"field": "vol", "type": "quantitative", "scale": {"domain": [0, 6.1], "nice": false},
                      "axis": {"values": [0, 2.5, 5], "format": ".1f", "labelOverlap": false, "title": "volume", "labelFontSize": 6, "titleFontSize": 6.5, "tickSize": 2, "labelPadding": 1, "titlePadding": 3}},
                "color": {"condition": {"test": "datum.close >= datum.open", "value": "#2ca02c"}, "value": "#d62728"}
              }
            }
          ]
        },
        {
          "title": {"text": "M1: injected evidence.", "orient": "bottom", "anchor": "middle", "dx": 9.5, "dy": -14, "offset": 0},
          "spacing": 0,
          "vconcat": [
            {
              "width": 269, "height": 143,
              "resolve": {"axis": {"y": "independent"}},
              "encoding": {
                "x": {"field": "t", "type": "quantitative", "scale": {"domain": [-60, 1], "nice": false, "zero": false},
                      "axis": {"values": [-59, -48, -36, -24, -12, 0], "labels": false, "tickSize": 2, "title": null, "minExtent": 2, "maxExtent": 2}}
              },
              "layer": [
                {"data": {"name": "c"}, "mark": {"type": "rule", "strokeWidth": 0.9, "opacity": 0.45},
                 "encoding": {
                   "y": {"field": "low", "type": "quantitative", "scale": {"domain": [91.65, 102.2], "nice": false, "zero": false},
                         "axis": {"values": [92, 94, 96, 98, 100, 102], "labelOverlap": false, "title": "relative price", "labelFontSize": 6, "titleFontSize": 6.5, "tickSize": 2, "labelPadding": 1, "titlePadding": 3, "minExtent": 15, "maxExtent": 15}},
                   "y2": {"field": "high"},
                   "color": {"condition": {"test": "datum.close >= datum.open", "value": "#2ca02c"}, "value": "#d62728"}
                 }},
                {"data": {"name": "c"}, "mark": {"type": "bar", "size": 2.7, "orient": "vertical"},
                 "encoding": {
                   "y": {"field": "open", "type": "quantitative", "axis": null},
                   "y2": {"field": "close"},
                   "color": {"condition": {"test": "datum.close >= datum.open", "value": "#2ca02c"}, "value": "#d62728"}
                 }},
                {"data": {"name": "c_slow"}, "mark": {"type": "line", "color": "#ff7f0e", "strokeWidth": 0.9, "opacity": 0.6, "interpolate": "monotone"},
                 "encoding": {"y": {"field": "v", "type": "quantitative", "axis": null}}},
                {"data": {"name": "c_fast"}, "mark": {"type": "line", "color": "#1f77b4", "strokeWidth": 0.9, "opacity": 0.6, "interpolate": "monotone"},
                 "encoding": {"y": {"field": "v", "type": "quantitative", "axis": null}}}
              ]
            },
            {
              "width": 269, "height": 35,
              "title": {"text": "(c)", "orient": "bottom", "anchor": "middle", "fontWeight": "bold", "dx": -66.7, "offset": 1},
              "data": {"name": "c"},
              "mark": {"type": "bar", "size": 3.2, "orient": "vertical", "opacity": 0.7},
              "encoding": {
                "x": {"field": "t", "type": "quantitative", "scale": {"domain": [-60, 1], "nice": false, "zero": false},
                      "axis": {"values": [-59, -48, -36, -24, -12, 0], "labelExpr": "datum.value == 0 ? 't' : 't' + datum.value", "labelFontSize": 6, "tickSize": 2, "labelPadding": 1, "title": null}},
                "y": {"field": "vol", "type": "quantitative", "scale": {"domain": [0, 7.2], "nice": false},
                      "axis": {"values": [0, 2.5, 5], "format": ".1f", "labelOverlap": false, "title": "volume", "labelFontSize": 6, "titleFontSize": 6.5, "tickSize": 2, "labelPadding": 1, "titlePadding": 3}},
                "color": {"condition": {"test": "datum.close >= datum.open", "value": "#2ca02c"}, "value": "#d62728"}
              }
            }
          ]
        }
      ],
      "spacing": 27
    },
    {
      "hconcat": [
        {
          "title": {"text": "M2: trend–label swap.", "orient": "bottom", "anchor": "middle", "dx": 10.3, "dy": -14, "offset": 0},
          "spacing": -1.5,
          "vconcat": [
            {
              "width": 332, "height": 179,
              "resolve": {"axis": {"y": "independent"}},
              "encoding": {
                "x": {"field": "t", "type": "quantitative", "scale": {"domain": [-60, 1], "nice": false, "zero": false},
                      "axis": {"values": [-59, -48, -36, -24, -12, 0], "labels": false, "tickSize": 2.5, "title": null, "minExtent": 2.5, "maxExtent": 2.5}}
              },
              "layer": [
                {"data": {"name": "d"}, "mark": {"type": "rule", "strokeWidth": 1, "opacity": 0.45},
                 "encoding": {
                   "y": {"field": "low", "type": "quantitative", "scale": {"domain": [99.0, 106.8], "nice": false, "zero": false},
                         "axis": {"values": [100, 101, 102, 103, 104, 105, 106], "labelOverlap": false, "title": "relative price", "labelFontSize": 7, "titleFontSize": 7.5, "tickSize": 2.5, "labelPadding": 1.5, "titlePadding": 3, "minExtent": 17.5, "maxExtent": 17.5}},
                   "y2": {"field": "high"},
                   "color": {"condition": {"test": "datum.close >= datum.open", "value": "#2ca02c"}, "value": "#d62728"}
                 }},
                {"data": {"name": "d"}, "mark": {"type": "bar", "size": 3.5, "orient": "vertical"},
                 "encoding": {
                   "y": {"field": "open", "type": "quantitative", "axis": null},
                   "y2": {"field": "close"},
                   "color": {"condition": {"test": "datum.close >= datum.open", "value": "#2ca02c"}, "value": "#d62728"}
                 }},
                {"data": {"name": "d_slow"}, "mark": {"type": "line", "color": "#ff7f0e", "strokeWidth": 1, "opacity": 0.6, "interpolate": "monotone"},
                 "encoding": {"y": {"field": "v", "type": "quantitative", "axis": null}}},
                {"data": {"name": "d_fast"}, "mark": {"type": "line", "color": "#1f77b4", "strokeWidth": 1, "opacity": 0.6, "interpolate": "monotone"},
                 "encoding": {"y": {"field": "v", "type": "quantitative", "axis": null}}}
              ]
            },
            {
              "width": 332, "height": 45,
              "title": {"text": "(d)", "orient": "bottom", "anchor": "middle", "fontWeight": "bold", "dx": -68.5, "offset": 2},
              "data": {"name": "d"},
              "mark": {"type": "bar", "size": 4.2, "orient": "vertical", "opacity": 0.7},
              "encoding": {
                "x": {"field": "t", "type": "quantitative", "scale": {"domain": [-60, 1], "nice": false, "zero": false},
                      "axis": {"values": [-59, -48, -36, -24, -12, 0], "labelExpr": "datum.value == 0 ? 't' : 't' + datum.value", "labelFontSize": 7, "tickSize": 2.5, "labelPadding": 1.5, "title": null}},
                "y": {"field": "vol", "type": "quantitative", "scale": {"domain": [0, 6], "nice": false},
                      "axis": {"values": [0, 2, 4, 6], "format": "d", "labelOverlap": false, "title": "volume", "labelFontSize": 7, "titleFontSize": 7.5, "tickSize": 2.5, "labelPadding": 1.5, "titlePadding": 3}},
                "color": {"condition": {"test": "datum.close >= datum.open", "value": "#2ca02c"}, "value": "#d62728"}
              }
            }
          ]
        },
        {
          "title": {"text": "M3: regime shift.", "orient": "bottom", "anchor": "middle", "dx": 9.5, "dy": -14, "offset": 0},
          "spacing": 2.5,
          "vconcat": [
            {
              "width": 328, "height": 179,
              "resolve": {"axis": {"y": "independent"}},
              "encoding": {
                "x": {"field": "t", "type": "quantitative", "scale": {"domain": [-60, 1], "nice": false, "zero": false},
                      "axis": {"values": [-59, -48, -36, -24, -12, 0], "labels": false, "tickSize": 2.5, "title": null, "minExtent": 2.5, "maxExtent": 2.5}}
              },
              "layer": [
                {"data": {"name": "e"}, "mark": {"type": "rule", "strokeWidth": 1, "opacity": 0.45},
                 "encoding": {
                   "y": {"field": "low", "type": "quantitative", "scale": {"domain": [99.44, 103.49], "nice": false, "zero": false},
                         "axis": {"values": [99.5, 100, 100.5, 101, 101.5, 102, 102.5, 103], "format": ".1f", "labelOverlap": false, "title": "relative price", "labelFontSize": 7, "titleFontSize": 7.5, "tickSize": 2.5, "labelPadding": 1.5, "titlePadding": 2, "minExtent": 24, "maxExtent": 24}},
                   "y2": {"field": "high"},
                   "color": {"condition": {"test": "datum.close >= datum.open", "value": "#2ca02c"}, "value": "#d62728"}
                 }},
                {"data": {"name": "e"}, "mark": {"type": "bar", "size": 3.5, "orient": "vertical"},
                 "encoding": {
                   "y": {"field": "open", "type": "quantitative", "axis": null},
                   "y2": {"field": "close"},
                   "color": {"condition": {"test": "datum.close >= datum.open", "value": "#2ca02c"}, "value": "#d62728"}
                 }},
                {"data": {"name": "e_slow"}, "mark": {"type": "line", "color": "#ff7f0e", "strokeWidth": 1, "opacity": 0.6, "interpolate": "monotone"},
                 "encoding": {"y": {"field": "v", "type": "quantitative", "axis": null}}},
                {"data": {"name": "e_fast"}, "mark": {"type": "line", "color": "#1f77b4", "strokeWidth": 1, "opacity": 0.6, "interpolate": "monotone"},
                 "encoding": {"y": {"field": "v", "type": "quantitative", "axis": null}}}
              ]
            },
            {
              "width": 328, "height": 45,
              "title": {"text": "(e)", "orient": "bottom", "anchor": "middle", "fontWeight": "bold", "dx": -54, "offset": 2},
              "data": {"name": "e"},
              "mark": {"type": "bar", "size": 4.2, "orient": "vertical", "opacity": 0.7},
              "encoding": {
                "x": {"field": "t", "type": "quantitative", "scale": {"domain": [-60, 1], "nice": false, "zero": false},
                      "axis": {"values": [-59, -48, -36, -24, -12, 0], "labelExpr": "datum.value == 0 ? 't' : 't' + datum.value", "labelFontSize": 7, "tickSize": 2.5, "labelPadding": 1.5, "title": null}},
                "y": {"field": "vol", "type": "quantitative", "scale": {"domain": [0, 6.05], "nice": false},
                      "axis": {"values": [0, 2.5, 5], "format": ".1f", "labelOverlap": false, "title": "volume", "labelFontSize": 7, "titleFontSize": 7.5, "tickSize": 2.5, "labelPadding": 1.5, "titlePadding": 3}},
                "color": {"condition": {"test": "datum.close >= datum.open", "value": "#2ca02c"}, "value": "#d62728"}
              }
            }
          ]
        }
      ],
      "spacing": 74
    }
  ],
  "spacing": 9,
  "center": true
}
